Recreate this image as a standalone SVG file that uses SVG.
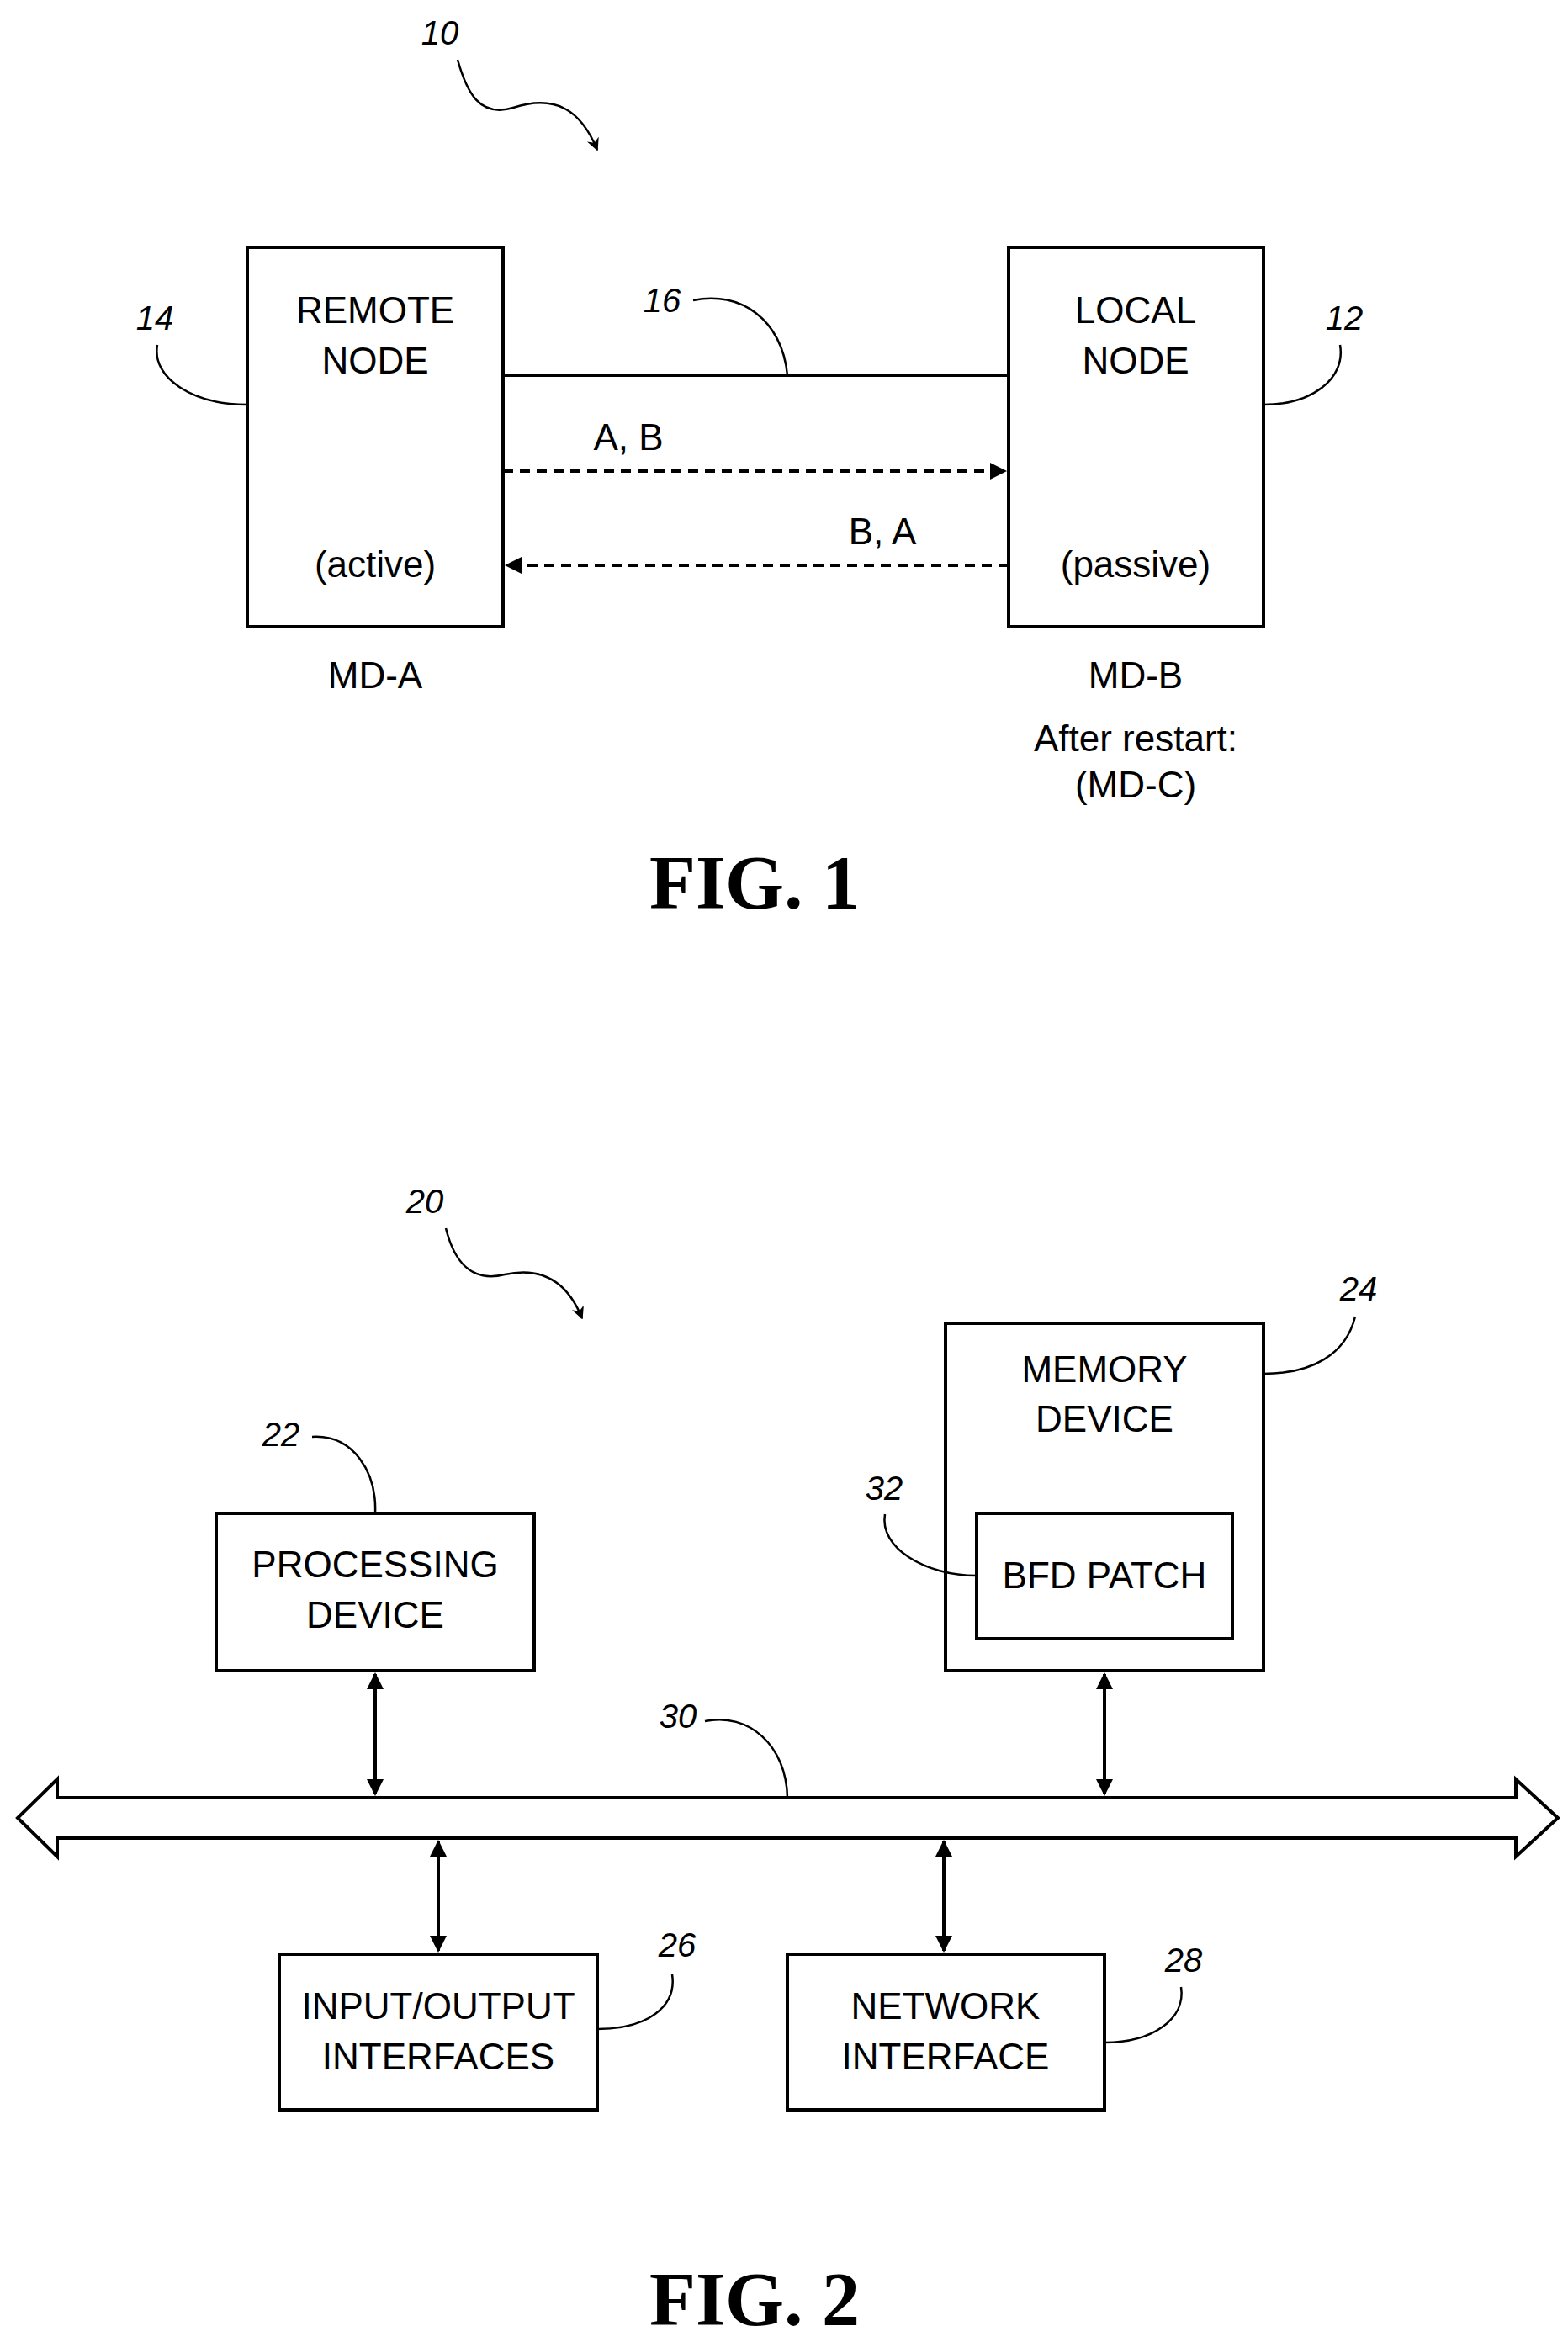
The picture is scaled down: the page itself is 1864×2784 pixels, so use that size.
<svg xmlns="http://www.w3.org/2000/svg" width="1864" height="2784" viewBox="0 0 1864 2784">
<style>
.b{fill:none;stroke:#000;stroke-width:4}
.l{fill:none;stroke:#000;stroke-width:2.5}
.t{font-family:"Liberation Sans",Arial,sans-serif;font-size:44px;text-anchor:middle;fill:#000}
.n{font-family:"Liberation Sans",Arial,sans-serif;font-size:40px;font-style:italic;text-anchor:middle;fill:#000}
.f{font-family:"Liberation Serif","Times New Roman",serif;font-size:90px;font-weight:bold;text-anchor:middle;fill:#000}
</style>
<defs>
<marker id="ah" viewBox="0 0 10 10" refX="9" refY="5" markerWidth="6" markerHeight="6" orient="auto-start-reverse" markerUnits="strokeWidth"><path d="M0,0 L10,5 L0,10 L3,5 z" fill="#000"/></marker>
<marker id="ah2" viewBox="0 0 10 10" refX="9" refY="5" markerWidth="5" markerHeight="5" orient="auto-start-reverse" markerUnits="strokeWidth"><path d="M0,0 L10,5 L0,10 z" fill="#000"/></marker>
</defs>
<rect width="1864" height="2784" fill="#fff"/>
<g id="fig1-ref10"><text class="n" x="523" y="53">10</text><path class="l" d="M544,71 C555,110 570,140 610,128 C660,112 690,130 710,178" marker-end="url(#ah)"/></g>
<g id="remote-node"><rect class="b" x="294" y="294" width="304" height="451"/><text class="t" x="446" y="384">REMOTE</text><text class="t" x="446" y="444">NODE</text><text class="t" x="446" y="686">(active)</text><text class="t" x="446" y="818">MD-A</text></g>
<g id="local-node"><rect class="b" x="1199" y="294" width="303" height="451"/><text class="t" x="1350" y="384">LOCAL</text><text class="t" x="1350" y="444">NODE</text><text class="t" x="1350" y="686">(passive)</text><text class="t" x="1350" y="818">MD-B</text><text class="t" x="1350" y="893">After restart:</text><text class="t" x="1350" y="948">(MD-C)</text></g>
<g id="fig1-connectors">
<line class="b" x1="598" y1="446" x2="1199" y2="446"/>
<line class="b" x1="598" y1="560" x2="1195" y2="560" stroke-dasharray="12,8" marker-end="url(#ah2)"/>
<line class="b" x1="1199" y1="672" x2="602" y2="672" stroke-dasharray="12,8" marker-end="url(#ah2)"/>
<text class="t" x="747" y="535">A, B</text><text class="t" x="1049" y="647">B, A</text>
<text class="n" x="184" y="392">14</text><path class="l" d="M187,410 C180,450 230,481 294,481"/>
<text class="n" x="787" y="371">16</text><path class="l" d="M824,357 C880,345 930,380 936,446"/>
<text class="n" x="1598" y="392">12</text><path class="l" d="M1593,410 C1600,450 1560,481 1502,481"/>
</g>
<text class="f" x="897" y="1080">FIG. 1</text>
<g id="fig2-ref20"><text class="n" x="505" y="1442">20</text><path class="l" d="M530,1460 C540,1500 560,1525 600,1515 C645,1505 675,1525 692,1567" marker-end="url(#ah)"/></g>
<g id="memory-device"><rect class="b" x="1124" y="1573" width="378" height="413"/><text class="t" x="1313" y="1643">MEMORY</text><text class="t" x="1313" y="1702">DEVICE</text></g>
<g id="bfd-patch"><rect class="b" x="1161" y="1799" width="304" height="149"/><text class="t" x="1313" y="1888">BFD PATCH</text></g>
<g id="processing-device"><rect class="b" x="257" y="1799" width="378" height="187"/><text class="t" x="446" y="1875">PROCESSING</text><text class="t" x="446" y="1935">DEVICE</text></g>
<g id="io-interfaces"><rect class="b" x="332" y="2323" width="378" height="185"/><text class="t" x="521" y="2400">INPUT/OUTPUT</text><text class="t" x="521" y="2460">INTERFACES</text></g>
<g id="network-interface"><rect class="b" x="936" y="2323" width="377" height="185"/><text class="t" x="1124" y="2400">NETWORK</text><text class="t" x="1124" y="2460">INTERFACE</text></g>
<g id="bus"><path class="b" d="M68,2137 L1802,2137 L1802,2115 L1852,2161 L1802,2207 L1802,2185 L68,2185 L68,2207 L21,2161 L68,2115 Z"/></g>
<g id="fig2-connectors">
<line class="b" x1="446" y1="1990" x2="446" y2="2133" marker-start="url(#ah2)" marker-end="url(#ah2)"/>
<line class="b" x1="1313" y1="1990" x2="1313" y2="2133" marker-start="url(#ah2)" marker-end="url(#ah2)"/>
<line class="b" x1="521" y1="2189" x2="521" y2="2319" marker-start="url(#ah2)" marker-end="url(#ah2)"/>
<line class="b" x1="1122" y1="2189" x2="1122" y2="2319" marker-start="url(#ah2)" marker-end="url(#ah2)"/>
<text class="n" x="1615" y="1546">24</text><path class="l" d="M1611,1565 C1600,1610 1560,1633 1502,1633"/>
<text class="n" x="1051" y="1783">32</text><path class="l" d="M1052,1800 C1045,1840 1100,1873 1161,1873"/>
<text class="n" x="334" y="1719">22</text><path class="l" d="M371,1708 C420,1705 448,1750 446,1799"/>
<text class="n" x="806" y="2054">30</text><path class="l" d="M838,2046 C890,2035 935,2075 936,2137"/>
<text class="n" x="805" y="2326">26</text><path class="l" d="M799,2347 C805,2385 770,2412 710,2412"/>
<text class="n" x="1407" y="2344">28</text><path class="l" d="M1404,2362 C1410,2400 1370,2428 1313,2428"/>
</g>
<text class="f" x="897" y="2764">FIG. 2</text>
</svg>
